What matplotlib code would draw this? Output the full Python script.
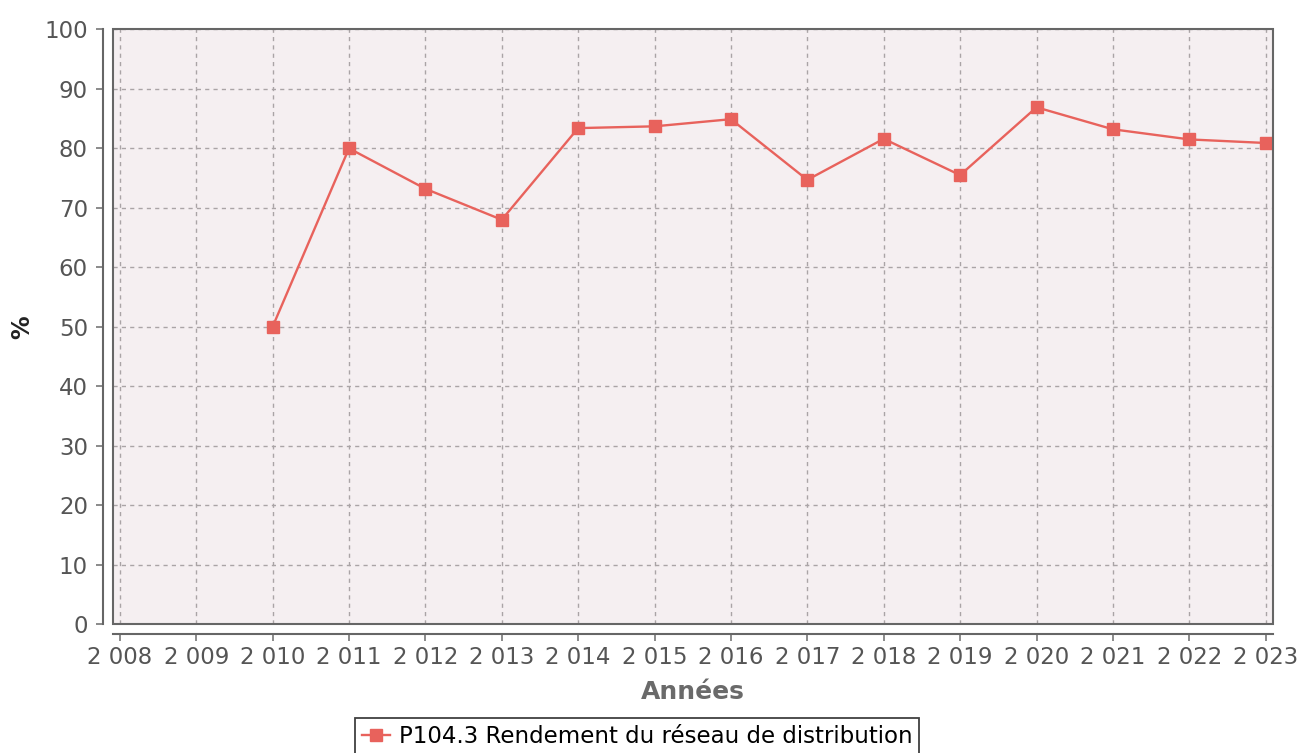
import matplotlib.pyplot as plt
from matplotlib.patches import Rectangle

annees = [2010, 2011, 2012, 2013, 2014, 2015, 2016, 2017, 2018, 2019, 2020, 2021, 2022, 2023]
rendement = [50.0, 80.0, 73.2, 68.0, 83.4, 83.7, 84.9, 74.7, 81.6, 75.5, 86.9, 83.2, 81.5, 80.9]
ticks_x = list(range(2008, 2024))
ticks_y = list(range(0, 101, 10))
serie = "P104.3 Rendement du réseau de distribution"

rouge = "#e8625c"
gris = "#555555"

fig = plt.figure(figsize=(12.98, 7.53), dpi=100)
ax = fig.add_axes([0.087, 0.171, 0.894, 0.79])
ax.set_facecolor("#f5eff1")

ax.plot(annees, rendement, color=rouge, lw=1.7, marker="s", ms=9,
        label=serie, zorder=3)

ax.set_xlim(2007.91, 2023.1)
ax.set_ylim(0, 100)
ax.set_xticks(ticks_x)
ax.set_xticklabels([f"{a // 1000} {a % 1000:03d}" for a in ticks_x])
ax.set_yticks(ticks_y)
ax.tick_params(labelsize=16.5, labelcolor=gris, color="#777777", length=5, width=1.2)
ax.tick_params(axis="y", pad=6)

ax.grid(True, color="#aaa4a6", ls=(0, (3, 3)), lw=1)

# axes decalés (style JFreeChart) + cadre de la zone de tracé
for s in ["top", "right"]:
    ax.spines[s].set_visible(False)
for s in ["left", "bottom"]:
    ax.spines[s].set_position(("outward", 7))
    ax.spines[s].set_color("#666666")
    ax.spines[s].set_linewidth(1.5)
ax.add_patch(Rectangle((0, 0), 1, 1, transform=ax.transAxes, fill=False,
                       ec="#666666", lw=1.5, zorder=4, clip_on=False))

ax.set_ylabel("%", fontsize=17, fontweight="bold", color="#222222")
ax.yaxis.set_label_coords(-0.068, 0.5)
ax.set_xlabel("Années", fontsize=18, fontweight="bold", color="#6a6a6a", labelpad=8)

leg = ax.legend(loc="upper center", bbox_to_anchor=(0.452, -0.138), fontsize=16.5,
                frameon=True, fancybox=False, edgecolor="#111111",
                handlelength=1.2, handletextpad=0.4, borderpad=0.3)
leg.get_frame().set_linewidth(1.3)

fig.savefig("out.png", dpi=100, facecolor="white")
